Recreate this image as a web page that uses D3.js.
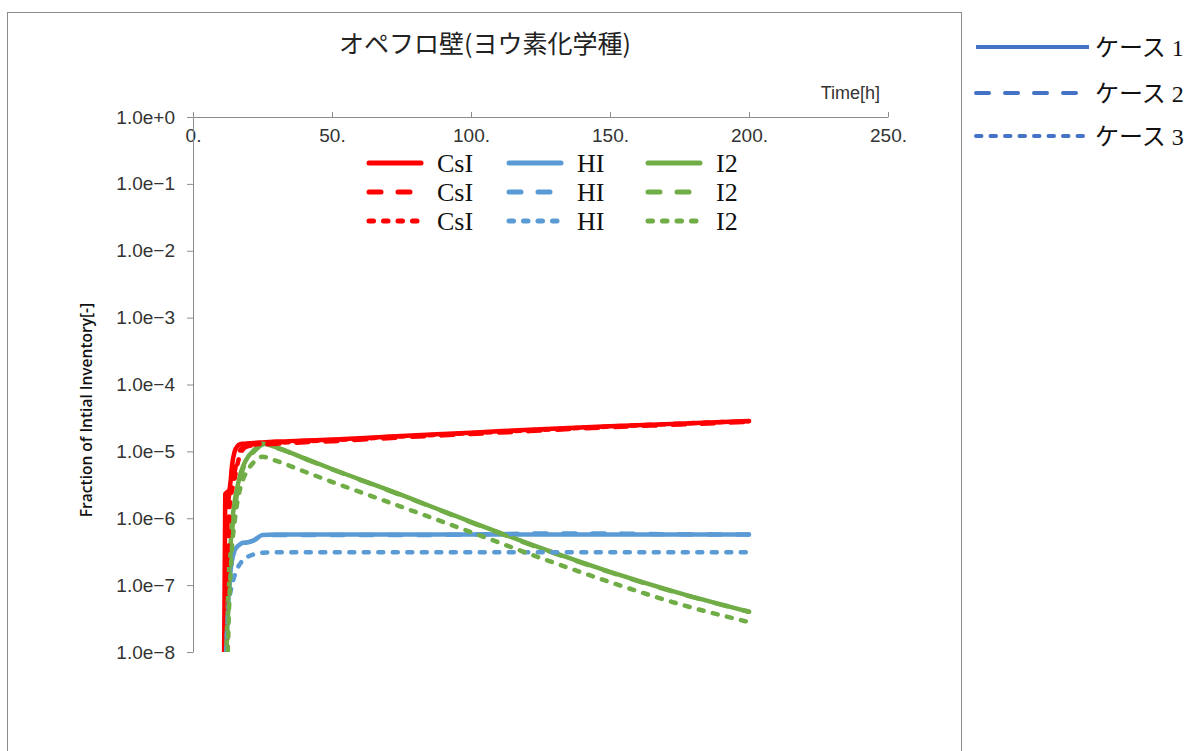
<!DOCTYPE html>
<html>
<head>
<meta charset="utf-8">
<script src="https://cdn.jsdelivr.net/npm/d3@7/dist/d3.min.js"></script>
<style>
  html, body { margin: 0; padding: 0; background: #fff; }
  svg { display: block; }
</style>
</head>
<body>
<svg id="chart" width="1204" height="751"></svg>
<script>
// Time grid [h] shared by every series; null = not yet released
const times = [11.2, 11.6, 12, 12.5, 13, 13.5, 14, 15, 16, 17, 18, 20, 22, 25, 30, 40, 50, 75, 100, 125, 150, 175, 200];

// CsI fraction of initial inventory
const csiCase1 = [1e-8, 2.3e-6, 2.4e-6, 2.5e-6, 2.6e-6, 3.5e-6, 6e-6, 1.0e-5, 1.2e-5, 1.28e-5, 1.3e-5, 1.32e-5, 1.34e-5, 1.36e-5, 1.4e-5, 1.45e-5, 1.5e-5, 1.7e-5, 1.9e-5, 2.15e-5, 2.38e-5, 2.6e-5, 2.85e-5];
const csiCase2 = [null, null, 1e-8, 1.5e-6, 2.2e-6, 2.5e-6, 3e-6, 5e-6, 8e-6, 1.05e-5, 1.15e-5, 1.2e-5, 1.24e-5, 1.27e-5, 1.3e-5, 1.37e-5, 1.42e-5, 1.62e-5, 1.82e-5, 2.05e-5, 2.3e-5, 2.52e-5, 2.76e-5];
const csiCase3 = [null, null, null, 1e-8, 1.2e-6, 2e-6, 2.6e-6, 4e-6, 6.5e-6, 9e-6, 1.08e-5, 1.2e-5, 1.26e-5, 1.3e-5, 1.34e-5, 1.41e-5, 1.47e-5, 1.67e-5, 1.87e-5, 2.1e-5, 2.35e-5, 2.6e-5, 2.82e-5];

// HI fraction of initial inventory
const hiCase1 = [null, null, 1e-8, 4e-8, 9e-8, 1.6e-7, 2.4e-7, 3.3e-7, 3.8e-7, 4.1e-7, 4.3e-7, 4.4e-7, 4.7e-7, 5.6e-7, 5.7e-7, 5.7e-7, 5.7e-7, 5.7e-7, 5.7e-7, 5.7e-7, 5.7e-7, 5.7e-7, 5.7e-7];
const hiCase2 = [null, null, 1e-8, 3.5e-8, 8.5e-8, 1.5e-7, 2.3e-7, 3.2e-7, 3.7e-7, 4.0e-7, 4.2e-7, 4.4e-7, 4.7e-7, 5.5e-7, 5.6e-7, 5.6e-7, 5.6e-7, 5.6e-7, 5.7e-7, 5.9e-7, 5.9e-7, 5.75e-7, 5.7e-7];
const hiCase3 = [null, null, 1e-8, 3e-8, 6e-8, 8e-8, 1e-7, 1.4e-7, 1.8e-7, 2.1e-7, 2.4e-7, 2.7e-7, 2.9e-7, 3.05e-7, 3.1e-7, 3.1e-7, 3.1e-7, 3.1e-7, 3.1e-7, 3.1e-7, 3.1e-7, 3.1e-7, 3.1e-7];

// I2 fraction of initial inventory
const i2Case1 = [null, null, 1e-8, 5e-8, 1.5e-7, 4e-7, 8e-7, 1.8e-6, 3e-6, 4.5e-6, 6e-6, 8.5e-6, 1.05e-5, 1.3e-5, 1.15e-5, 7.9e-6, 5.45e-6, 2.23e-6, 8.8e-7, 3.6e-7, 1.58e-7, 7.6e-8, 4.0e-8];
const i2Case2 = [null, null, 1e-8, 3e-8, 1e-7, 3e-7, 6e-7, 1.4e-6, 2.5e-6, 4e-6, 5.5e-6, 8e-6, 1.0e-5, 1.25e-5, 1.13e-5, 7.8e-6, 5.4e-6, 2.2e-6, 8.7e-7, 3.55e-7, 1.56e-7, 7.5e-8, 4.0e-8];
const i2Case3 = [null, null, null, 1e-8, 5e-8, 1.5e-7, 3.5e-7, 9e-7, 1.8e-6, 2.8e-6, 3.8e-6, 5.5e-6, 7e-6, 8.3e-6, 7.2e-6, 5e-6, 3.5e-6, 1.48e-6, 6.2e-7, 2.55e-7, 1.11e-7, 5.2e-8, 2.8e-8];

// Axis ticks and labels
const xTicks = [0, 50, 100, 150, 200, 250];
const yTicks = [1, 1e-1, 1e-2, 1e-3, 1e-4, 1e-5, 1e-6, 1e-7, 1e-8];
const species = ["CsI", "HI", "I2"];
const caseNames = ["ケース 1", "ケース 2", "ケース 3"];

const colors = { CsI: "#ff0000", HI: "#5b9bd5", I2: "#70ad47" };
const LW = 4.5;
// round-capped dash patterns: solid, long dash, short dash
const dashFor = w => [null, `${17 - w},${12 + w}`, `${9.5 - w},${5 + w}`];

const series = [];
const byCase = [
  [csiCase1, hiCase1, i2Case1],
  [csiCase2, hiCase2, i2Case2],
  [csiCase3, hiCase3, i2Case3]
];
byCase.forEach((row, c) => row.forEach((vals, s) => {
  series.push({ species: species[s], caseIdx: c, values: vals });
}));

const svg = d3.select("#chart");

// chart frame
svg.append("rect")
  .attr("x", 7.5).attr("y", 12.5)
  .attr("width", 954).attr("height", 760)
  .attr("fill", "none").attr("stroke", "#8c8c8c").attr("stroke-width", 1);

const x = d3.scaleLinear().domain([0, 250]).range([193, 888]);
const y = d3.scaleLog().domain([1e-8, 1]).range([652, 117]);

// title
svg.append("text")
  .attr("x", 485).attr("y", 53)
  .attr("text-anchor", "middle")
  .attr("font-family", "'Noto Sans CJK JP', sans-serif")
  .attr("font-size", 25)
  .attr("fill", "#222")
  .text("オペフロ壁(ヨウ素化学種)");

const tickFont = "'Liberation Sans', Arial, sans-serif";

// x axis along the top edge, ticks pointing up, labels underneath
const xAxis = d3.axisBottom(x)
  .tickValues(xTicks)
  .tickSizeInner(-5).tickSizeOuter(0)
  .tickPadding(12)
  .tickFormat(d => d + ".");
const gx = svg.append("g").attr("transform", `translate(0,${y(1)})`).call(xAxis);
gx.select(".domain").attr("stroke", "#8c8c8c");
gx.selectAll(".tick line").attr("stroke", "#8c8c8c");
gx.selectAll(".tick text")
  .attr("font-family", tickFont).attr("font-size", 19).attr("fill", "#333");

svg.append("text")
  .attr("x", 880).attr("y", 99)
  .attr("text-anchor", "end")
  .attr("font-family", tickFont).attr("font-size", 18).attr("fill", "#333")
  .text("Time[h]");

// y axis (log)
const fmtExp = d => {
  const e = Math.round(Math.log10(d));
  return "1.0e" + (e >= 0 ? "+" + e : "−" + (-e));
};
const yAxis = d3.axisLeft(y)
  .tickValues(yTicks)
  .tickSizeInner(6).tickSizeOuter(0)
  .tickPadding(12)
  .tickFormat(fmtExp);
const gy = svg.append("g").attr("transform", `translate(${x(0)},0)`).call(yAxis);
gy.select(".domain").attr("stroke", "#8c8c8c");
gy.selectAll(".tick line").attr("stroke", "#8c8c8c");
gy.selectAll(".tick text")
  .attr("font-family", tickFont).attr("font-size", 19).attr("fill", "#333");

svg.append("text")
  .attr("transform", "translate(92,410) rotate(-90)")
  .attr("text-anchor", "middle")
  .attr("font-family", "'Open Sans', 'Noto Sans', sans-serif")
  .attr("font-weight", 600)
  .attr("font-size", 15.5)
  .attr("fill", "#111")
  .text("Fraction of Intial Inventory[-]");

// data lines
svg.append("clipPath").attr("id", "plot-clip")
  .append("rect").attr("x", x(0)).attr("y", y(1) - 5)
  .attr("width", x(250) - x(0)).attr("height", y(1e-8) - y(1) + 5);

const line = d3.line()
  .defined(d => d.v != null)
  .x(d => x(d.t))
  .y(d => y(d.v))
  .curve(d3.curveMonotoneX);

const plot = svg.append("g").attr("clip-path", "url(#plot-clip)");
series.forEach(s => {
  const pts = times.map((t, i) => ({ t, v: s.values[i] }));
  plot.append("path")
    .datum(pts)
    .attr("d", line)
    .attr("fill", "none")
    .attr("stroke", colors[s.species])
    .attr("stroke-width", LW)
    .attr("stroke-linecap", "round")
    .attr("stroke-linejoin", "round")
    .attr("stroke-dasharray", dashFor(LW)[s.caseIdx]);
});

// in-plot legend: 3 columns (species) x 3 rows (cases)
const legCols = [367, 507, 646];
const legRows = [163, 192, 221];
const legend = svg.append("g");
series.forEach(s => {
  const col = species.indexOf(s.species);
  const lx = legCols[col], ly = legRows[s.caseIdx];
  legend.append("line")
    .attr("x1", lx + 2).attr("x2", lx + 54)
    .attr("y1", ly).attr("y2", ly)
    .attr("stroke", colors[s.species])
    .attr("stroke-width", 5)
    .attr("stroke-linecap", "round")
    .attr("stroke-dasharray", dashFor(5)[s.caseIdx]);
  legend.append("text")
    .attr("x", lx + 70).attr("y", ly + 9)
    .attr("font-family", "'Liberation Serif', 'Times New Roman', serif")
    .attr("font-size", 26).attr("fill", "#111")
    .text(s.species);
});

// case legend outside the frame
const caseRows = [47, 93, 136];
const caseColor = "#4472c4";
caseNames.forEach((name, c) => {
  svg.append("line")
    .attr("x1", 976).attr("x2", 1089)
    .attr("y1", caseRows[c]).attr("y2", caseRows[c])
    .attr("stroke", caseColor)
    .attr("stroke-width", 4)
    .attr("stroke-linecap", c === 0 ? "butt" : "round")
    .attr("stroke-dasharray", dashFor(4)[c]);
  svg.append("text")
    .attr("x", 1095).attr("y", caseRows[c] + 9)
    .attr("font-family", "'Liberation Serif', 'Noto Sans CJK JP', serif")
    .attr("font-size", 24).attr("fill", "#111")
    .text(name);
});
</script>
</body>
</html>
